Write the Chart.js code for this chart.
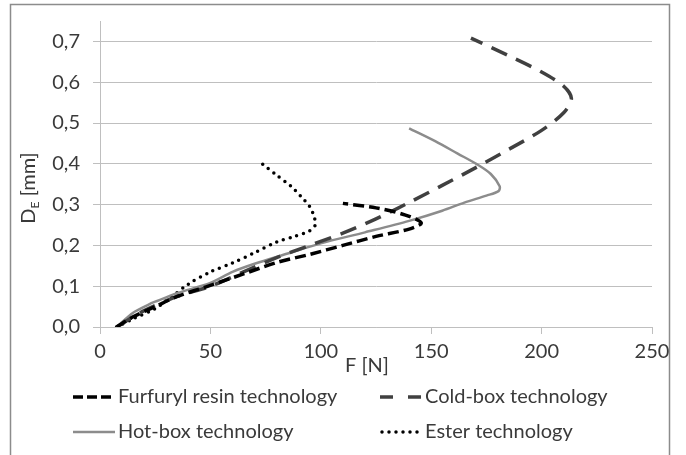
<!DOCTYPE html>
<html>
<head>
<meta charset="utf-8">
<script src="https://cdn.jsdelivr.net/npm/chart.js@4.4.1/dist/chart.umd.min.js"></script>
<style>
  html, body { margin: 0; padding: 0; background: #fff; }
  #wrap { width: 686px; height: 455px; }
</style>
</head>
<body>
<div id="wrap"><canvas id="chart" width="686" height="455"></canvas></div>
<script>
// F [N] / D_E [mm] readings per technology
const furfurylF = [7.5, 15, 25, 35, 50, 65, 80, 95, 110, 125, 140, 145.5, 138, 125, 110];
const furfurylD = [0, 0.025, 0.05, 0.075, 0.102, 0.13, 0.158, 0.178, 0.2, 0.222, 0.24, 0.255, 0.275, 0.292, 0.303];

const coldBoxF = [7.5, 20, 35, 50, 65, 80, 95, 110, 125, 140, 155, 170, 185, 200, 210, 213.5, 210, 200, 185, 168];
const coldBoxD = [0, 0.04, 0.075, 0.1, 0.135, 0.17, 0.2, 0.23, 0.265, 0.305, 0.347, 0.39, 0.435, 0.482, 0.525, 0.56, 0.59, 0.625, 0.665, 0.708];

const hotBoxF = [7.5, 15, 22, 25, 35, 50, 60, 70, 85, 100, 120, 140, 155, 165, 175, 180.5, 181, 177, 171, 162, 152, 140];
const hotBoxD = [0, 0.035, 0.055, 0.062, 0.083, 0.108, 0.135, 0.155, 0.18, 0.205, 0.232, 0.26, 0.285, 0.305, 0.322, 0.333, 0.345, 0.375, 0.398, 0.425, 0.455, 0.487];

const esterF = [7.5, 15, 25, 32, 40, 50, 60, 70, 80, 88, 95, 97.5, 97, 95, 91, 86.5, 80, 73.5];
const esterD = [0, 0.02, 0.045, 0.072, 0.105, 0.135, 0.157, 0.182, 0.208, 0.222, 0.236, 0.25, 0.27, 0.295, 0.32, 0.345, 0.372, 0.4];

const seriesNames = ['Furfuryl resin technology', 'Cold-box technology', 'Hot-box technology', 'Ester technology'];
const xTicks = [0, 50, 100, 150, 200, 250];
const yTicks = [0, 0.1, 0.2, 0.3, 0.4, 0.5, 0.6, 0.7];

const FONT = 'Lato';
const TEXT = '#3a3a3a';

const toPoints = (fs, ds) => fs.map((f, i) => ({ x: f, y: ds[i] }));

const styles = [
    { color: '#000000', width: 3.5, dash: [11, 5], cap: 'butt', legendDash: [10, 4] },
    { color: '#404040', width: 3.5, dash: [17, 10], cap: 'butt', legendDash: [13, 15] },
    { color: '#8c8c8c', width: 2.5, dash: [], cap: 'butt', legendDash: [] },
    { color: '#000000', width: 3.5, dash: [0, 7], cap: 'round', legendDash: [0, 7] }
];

const sets = [
    toPoints(furfurylF, furfurylD),
    toPoints(coldBoxF, coldBoxD),
    toPoints(hotBoxF, hotBoxD),
    toPoints(esterF, esterD)
];

// frame, axis titles and the two-column legend
const extras = {
    id: 'extras',
    beforeDraw(chart) {
        const ctx = chart.ctx;
        ctx.save();
        ctx.strokeStyle = '#8c8c8c';
        ctx.lineWidth = 1.5;
        ctx.beginPath();
        ctx.moveTo(10.5, 460);
        ctx.lineTo(10.5, 4.5);
        ctx.lineTo(669.5, 4.5);
        ctx.lineTo(669.5, 460);
        ctx.stroke();
        ctx.restore();
    },
    afterDraw(chart) {
        const ctx = chart.ctx;
        ctx.save();
        ctx.fillStyle = TEXT;

        // x title
        ctx.font = '20px ' + FONT;
        ctx.textAlign = 'center';
        ctx.textBaseline = 'middle';
        ctx.fillText('F [N]', 367, 366);

        // y title with subscript
        ctx.translate(28, 188);
        ctx.rotate(-Math.PI / 2);
        const big = '20px ' + FONT, small = '12px ' + FONT;
        ctx.font = big;
        const wD = ctx.measureText('D').width;
        const wRest = ctx.measureText(' [mm]').width;
        ctx.font = small;
        const wE = ctx.measureText('E').width;
        let x = -(wD + wE + wRest) / 2;
        ctx.textAlign = 'left';
        ctx.textBaseline = 'alphabetic';
        ctx.font = big;
        ctx.fillText('D', x, 7);
        x += wD;
        ctx.font = small;
        ctx.fillText('E', x, 11);
        x += wE;
        ctx.font = big;
        ctx.fillText(' [mm]', x, 7);
        ctx.restore();

        // legend
        const cols = [73, 380];
        const rows = [397, 432];
        ctx.save();
        ctx.font = '20px ' + FONT;
        ctx.textBaseline = 'middle';
        ctx.textAlign = 'left';
        seriesNames.forEach((name, i) => {
            const lx = cols[i % 2], ly = rows[Math.floor(i / 2)];
            const s = styles[i];
            ctx.strokeStyle = s.color;
            ctx.lineWidth = s.width;
            ctx.lineCap = s.cap;
            ctx.setLineDash(s.legendDash);
            ctx.beginPath();
            ctx.moveTo(lx + (s.cap === 'round' ? 2 : 0), ly);
            ctx.lineTo(lx + 42, ly);
            ctx.stroke();
            ctx.setLineDash([]);
            ctx.fillStyle = TEXT;
            ctx.fillText(name, lx + 45, ly);
        });
        ctx.restore();
    }
};

new Chart(document.getElementById('chart'), {
    type: 'scatter',
    data: {
        datasets: sets.map((pts, i) => ({
            label: seriesNames[i],
            data: pts,
            showLine: true,
            fill: false,
            borderColor: styles[i].color,
            backgroundColor: styles[i].color,
            borderWidth: styles[i].width,
            borderDash: styles[i].dash,
            borderCapStyle: styles[i].cap,
            tension: 0.3,
            pointRadius: 0,
            pointHoverRadius: 0
        }))
    },
    options: {
        responsive: false,
        animation: false,
        devicePixelRatio: 1,
        layout: { padding: { left: 0, top: 21, right: 34, bottom: 0 } },
        plugins: {
            legend: { display: false },
            tooltip: { enabled: false }
        },
        scales: {
            x: {
                type: 'linear',
                min: 0,
                max: 250,
                afterBuildTicks: (scale) => { scale.ticks = xTicks.map(v => ({ value: v })); },
                afterFit: (scale) => {
                    scale.height = 128;
                    scale.paddingLeft = 0;
                    scale.paddingRight = 0;
                },
                grid: { drawOnChartArea: false, drawTicks: true, tickLength: 7, color: '#bfbfbf' },
                border: { display: true, color: '#bfbfbf' },
                ticks: {
                    padding: 6,
                    color: TEXT,
                    font: { family: FONT, size: 20 },
                    maxRotation: 0,
                    callback: (v) => String(v)
                }
            },
            y: {
                type: 'linear',
                min: 0,
                max: 0.75,
                afterBuildTicks: (scale) => { scale.ticks = yTicks.map(v => ({ value: v })); },
                afterFit: (scale) => {
                    scale.width = 100;
                    scale.paddingTop = 0;
                    scale.paddingBottom = 0;
                },
                grid: { color: '#bfbfbf', tickLength: 7 },
                border: { display: true, color: '#bfbfbf' },
                ticks: {
                    padding: 13,
                    color: TEXT,
                    font: { family: FONT, size: 20 },
                    callback: (v) => v.toFixed(1).replace('.', ',')
                }
            }
        }
    },
    plugins: [extras]
});
</script>
</body>
</html>
